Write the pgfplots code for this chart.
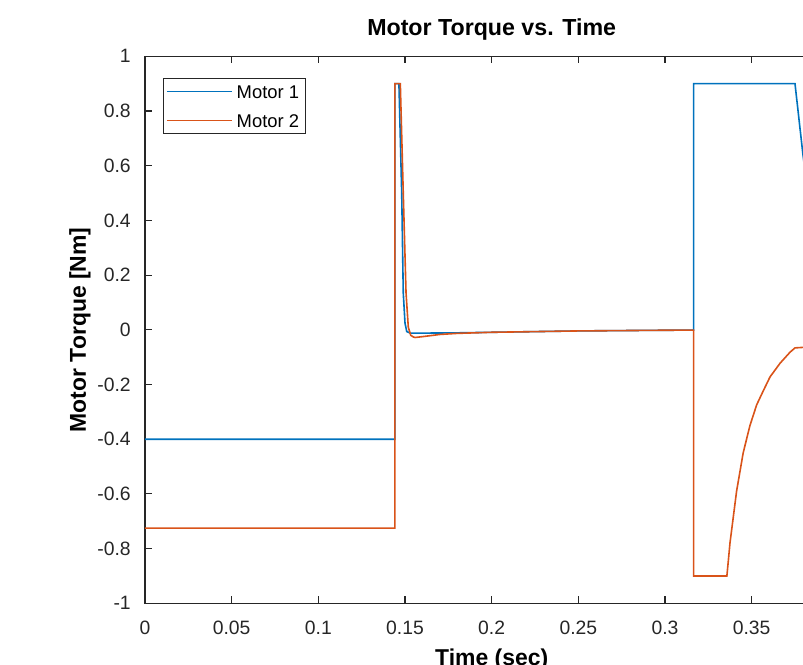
\documentclass[border=0pt]{standalone}
\usepackage{fontspec}
\setmainfont{Liberation Sans}
\usepackage{pgfplots}
\pgfplotsset{compat=1.18}
\definecolor{mblue}{RGB}{0,114,189}
\definecolor{morange}{RGB}{217,83,25}
\definecolor{axgray}{RGB}{38,38,38}
\begin{document}
\begin{tikzpicture}
\path[use as bounding box] (-108.75pt,-45.5pt) rectangle (493.5pt,452.5pt);
\begin{scope}[overlay]
\begin{axis}[
  scale only axis,
  width=520pt, height=410.25pt,
  xmin=0, xmax=0.4, ymin=-1, ymax=1,
  xtick={0,0.05,0.1,0.15,0.2,0.25,0.3,0.35},
  xticklabels={0,0.05,0.1,0.15,0.2,0.25,0.3,0.35},
  ytick={-1,-0.8,-0.6,-0.4,-0.2,0,0.2,0.4,0.6,0.8,1},
  yticklabels={-1,-0.8,-0.6,-0.4,-0.2,0,0.2,0.4,0.6,0.8,1},
  axis line style={axgray, line width=0.8pt},
  major tick length=5.25pt,
  tick style={axgray, line width=0.8pt},
  tick align=inside,
  ticklabel style={font=\fontsize{14.5}{17}\selectfont, text=axgray},
  xticklabel style={inner sep=0pt, anchor=north, yshift=-13.3pt},
  yticklabel style={inner sep=0pt, anchor=east, xshift=-10.5pt},
  title={Motor Torque vs. Time},
  title style={font=\bfseries\fontsize{17.4}{20}\selectfont, inner sep=0pt, at={(axis description cs:0.5,1)}, anchor=base, yshift=9.75pt},
  xlabel={Time (sec)},
  xlabel style={font=\bfseries\fontsize{17.2}{20}\selectfont, inner sep=0pt, at={(axis description cs:0.5,0)}, anchor=base, yshift=-46.8pt},
  ylabel={Motor Torque [Nm]},
  ylabel style={font=\bfseries\fontsize{17.2}{20}\selectfont, inner sep=0pt, at={(axis description cs:0,0.5)}, anchor=base, yshift=44.25pt},
  legend cell align=left,
  legend image code/.code={\draw[#1] (0pt,0pt) -- (48.75pt,0pt);},
  legend style={at={(axis description cs:0.026,0.96)}, anchor=north west,
    draw=axgray, line width=0.6pt, inner xsep=2pt, inner ysep=2.25pt,
    font=\fontsize{13.8}{16}\selectfont, row sep=6.75pt,
    nodes={inner ysep=1pt, inner xsep=3pt, text height=12pt, text depth=1pt}},
]
\addplot[mblue, line width=1.2pt] coordinates {
 (0,-0.4) (0.1442,-0.4) (0.1442,0.9) (0.1465,0.9) (0.1481,0.50) (0.1490,0.135)
 (0.1500,0.025) (0.1510,-0.006) (0.1529,-0.012) (0.16,-0.012) (0.18,-0.011)
 (0.2,-0.009) (0.25,-0.004) (0.3,-0.0015) (0.3165,-0.001)
 (0.3165,0.9) (0.3750,0.9) (0.3796,0.64) (0.3802,0.61)
};
\addlegendentry{Motor 1}
\addplot[morange, line width=1.2pt] coordinates {
 (0,-0.725) (0.1442,-0.725) (0.1442,0.9) (0.1473,0.9) (0.1490,0.50) (0.1506,0.135)
 (0.1519,0.01) (0.1533,-0.02) (0.1548,-0.026) (0.1558,-0.028) (0.16,-0.025)
 (0.17,-0.017) (0.18,-0.013) (0.2,-0.009) (0.25,-0.004) (0.3,-0.0015) (0.3165,-0.001)
 (0.3165,-0.9) (0.3357,-0.9) (0.3366,-0.84) (0.3375,-0.779) (0.3413,-0.590)
 (0.3451,-0.450) (0.3490,-0.350) (0.3529,-0.274) (0.3567,-0.223) (0.3606,-0.172)
 (0.3664,-0.122) (0.3721,-0.082) (0.3750,-0.066) (0.3802,-0.064)
};
\addlegendentry{Motor 2}
\end{axis}
\end{scope}
\end{tikzpicture}
\end{document}
